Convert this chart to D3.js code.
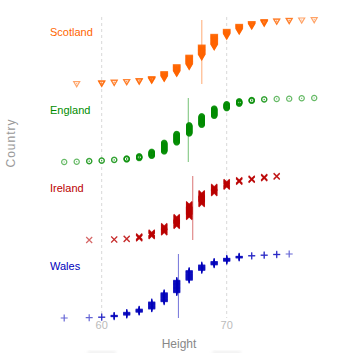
<!DOCTYPE html>
<html>
<head>
<meta charset="utf-8">
<script src="https://cdn.jsdelivr.net/npm/d3@7"></script>
<style>
  body { margin: 0; background: #fff; }
  svg { display: block; font-family: "Liberation Sans", Arial, sans-serif; }
</style>
</head>
<body>
<div id="vis-container"></div>
<script>
// countries, top to bottom
var countries = ["Scotland", "England", "Ireland", "Wales"];
var colors = ["#ff6600", "#008c00", "#bb0000", "#0000bb"];

// heights (inches) and how many people have that height, per country
var scotlandHeights = [58, 60, 61, 62, 63, 64, 65, 66, 67, 68, 69, 70, 71, 72, 73, 74, 75, 76, 77];
var scotlandCounts  = [ 1,  3,  2,  2,  3,  6, 16, 22, 30, 32, 34, 16, 16,  9,  6,  2,  2,  1,  1];

var englandHeights = [57, 58, 59, 60, 61, 62, 63, 64, 65, 66, 67, 68, 69, 70, 71, 72, 73, 74, 75, 76, 77];
var englandCounts  = [ 1,  1,  2,  2,  2,  4,  7, 14, 28, 28, 27, 28, 24, 14,  9,  4,  2,  1,  1,  1,  1];

var irelandHeights = [59, 61, 62, 63, 64, 65, 66, 67, 68, 69, 70, 71, 72, 73, 74];
var irelandCounts  = [ 1,  2,  2,  7, 12, 20, 28, 40, 34, 20, 15,  6,  5,  5,  3];

var walesHeights = [57, 59, 60, 61, 62, 63, 64, 65, 66, 67, 68, 69, 70, 71, 72, 73, 74, 75];
var walesCounts  = [ 1,  1,  2,  5,  9, 10, 22, 28, 38, 30, 17, 11, 10,  6,  2,  2,  2,  1];

var xTicks = [60, 70];

var width = 356;
var height = 353;

var svg = d3.select("#vis-container").append("svg")
    .attr("width", width)
    .attr("height", height);

// expand counts into sorted observations with their cumulative rank (0..1)
function expand(heights, counts) {
    var obs = [];
    heights.forEach((h, i) => {
        for (var k = 0; k < counts[i]; k++) obs.push(h);
    });
    var n = obs.length;
    return obs.map((h, i) => ({ h: h, f: i / (n - 1) }));
}

var groups = [
    expand(scotlandHeights, scotlandCounts),
    expand(englandHeights, englandCounts),
    expand(irelandHeights, irelandCounts),
    expand(walesHeights, walesCounts)
];

var x = d3.scaleLinear().domain([60, 70]).range([101.7, 226.7]);
var band = d3.scaleBand().domain(countries).range([6, 318]);
var f = d3.scaleLinear().domain([0, 1]).range([0, -64]);

// marker shapes (open triangle and circle get a centre dot)
var markers = [
    "M-3,-2.3L3,-2.3L0,2.8Z M0.5,-0.3L-0.5,-0.3",
    d3.arc()({ innerRadius: 0, outerRadius: 2.6, startAngle: 0, endAngle: 2 * Math.PI }) + "M0.5,0L-0.5,0",
    "M-3,-3L3,3M-3,3L3,-3",
    "M-3.5,0L3.5,0M0,-3.5L0,3.5"
];

// dashed grid lines
svg.append("g").selectAll("line")
    .data(xTicks).enter().append("line")
    .attr("x1", d => x(d)).attr("x2", d => x(d))
    .attr("y1", 17).attr("y2", 318)
    .attr("stroke", "#d8d8d8")
    .attr("stroke-dasharray", "3,3");

// tick labels
svg.append("g").selectAll("text")
    .data(xTicks).enter().append("text")
    .attr("x", d => x(d)).attr("y", 329)
    .attr("text-anchor", "middle")
    .attr("font-size", 11)
    .attr("fill", "#bbb")
    .text(d => d);

// faint shadows under the axis
svg.append("defs").append("filter").attr("id", "blur")
    .append("feGaussianBlur").attr("stdDeviation", 1.5);
svg.append("g").selectAll("rect")
    .data(xTicks).enter().append("rect")
    .attr("x", d => x(d) - 14).attr("width", 28)
    .attr("y", 351).attr("height", 3)
    .attr("fill", "#efefef")
    .attr("filter", "url(#blur)");

countries.forEach((c, i) => {
    var base = band(c) + band.bandwidth();
    var g = svg.append("g").attr("transform", "translate(0," + base + ")");
    var data = groups[i];

    g.append("text")
        .attr("x", 50).attr("y", 30 - band.bandwidth())
        .attr("font-size", 11)
        .attr("fill", colors[i])
        .text(c);

    var mean = d3.mean(data, d => d.h);
    g.append("line")
        .attr("x1", x(mean)).attr("x2", x(mean))
        .attr("y1", f(0)).attr("y2", f(1))
        .attr("stroke", colors[i])
        .attr("stroke-opacity", 0.55)
        .attr("stroke-width", 1);

    g.selectAll("path.m")
        .data(data).enter().append("path")
        .attr("class", "m")
        .attr("d", markers[i])
        .attr("transform", d => "translate(" + x(d.h) + "," + f(d.f) + ")")
        .attr("fill", "none")
        .attr("stroke", colors[i])
        .attr("stroke-opacity", 0.6)
        .attr("stroke-width", 1.2);
});

// axis titles
svg.append("text")
    .attr("x", 179).attr("y", 348)
    .attr("text-anchor", "middle")
    .attr("font-size", 12)
    .attr("fill", "#888")
    .text("Height");

svg.append("text")
    .attr("transform", "translate(15,143) rotate(-90)")
    .attr("text-anchor", "middle")
    .attr("font-size", 12)
    .attr("letter-spacing", 1)
    .attr("fill", "#999")
    .text("Country");
</script>
</body>
</html>
